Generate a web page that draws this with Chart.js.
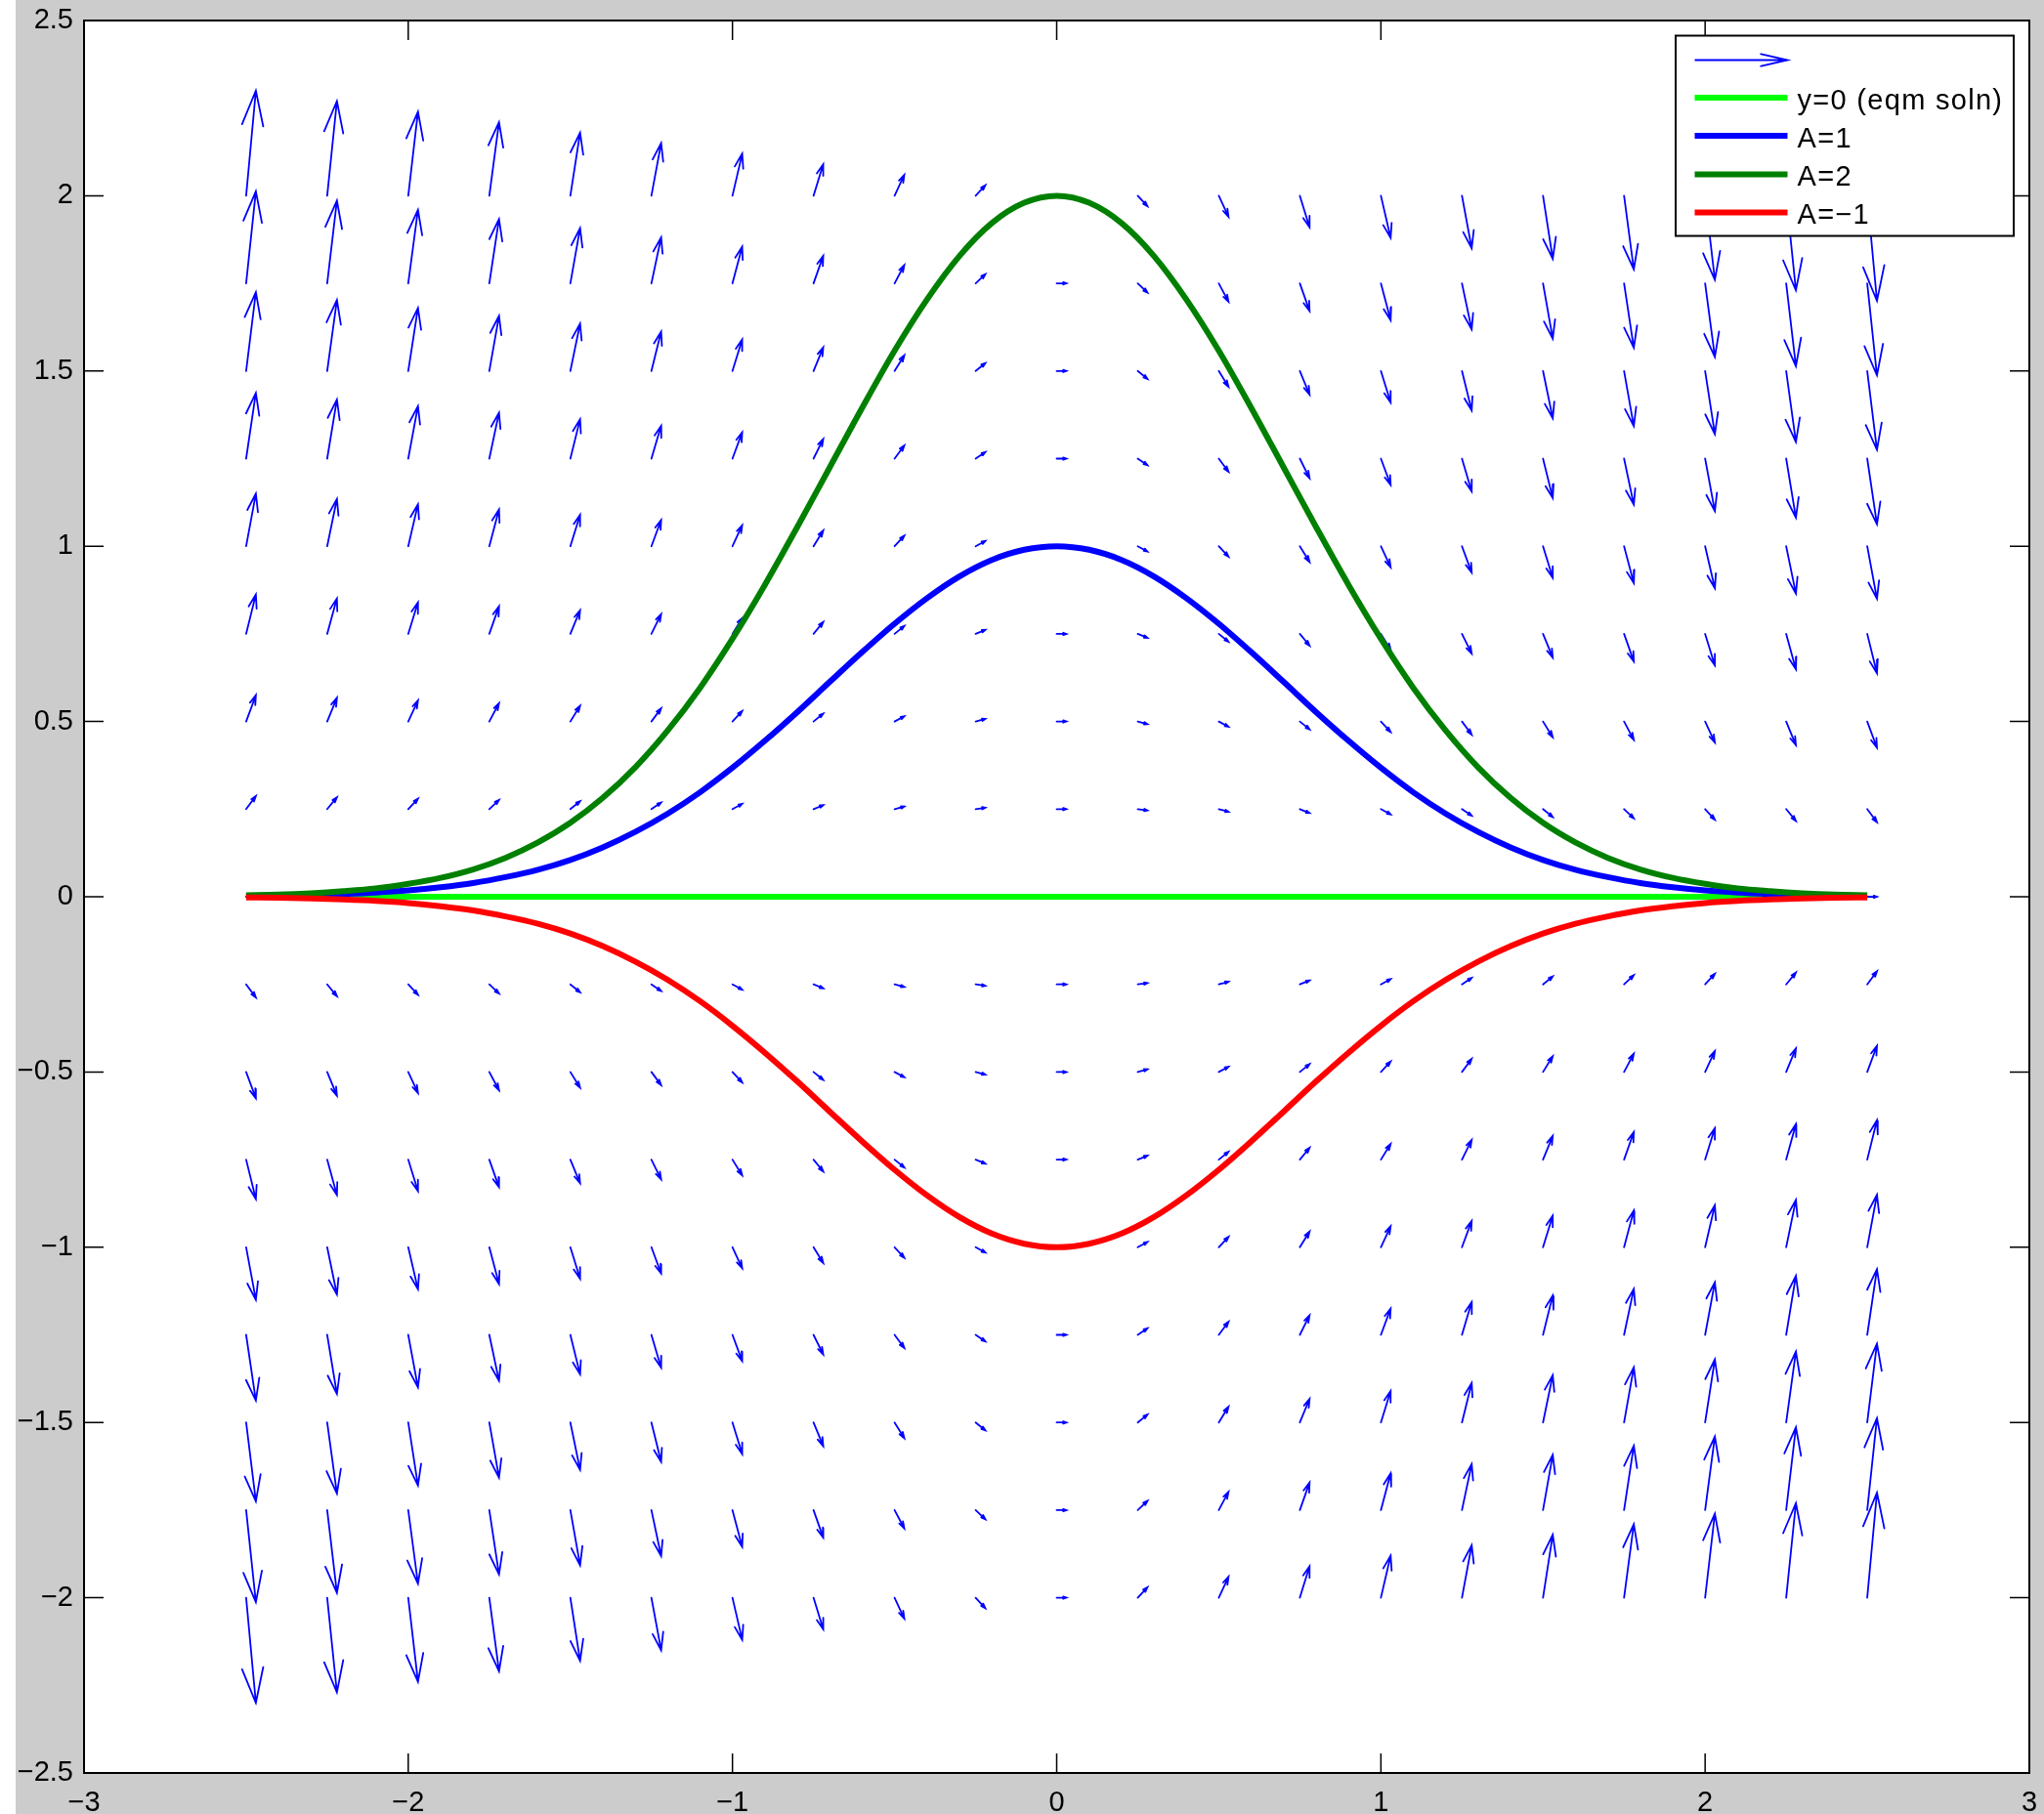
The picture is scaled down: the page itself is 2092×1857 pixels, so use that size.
<!DOCTYPE html>
<html><head><meta charset="utf-8">
<script src="https://cdn.jsdelivr.net/npm/chart.js@4/dist/chart.umd.min.js"></script>
<style>html,body{margin:0;padding:0;background:#fff;overflow:hidden}canvas{display:block}</style>
</head><body>
<canvas id="c" width="2092" height="1857"></canvas>
<script>
// ---- data ----
const xTickValues = [-3, -2, -1, 0, 1, 2, 3];
const yTickValues = [-2.5, -2, -1.5, -1, -0.5, 0, 0.5, 1, 1.5, 2, 2.5];

// direction-field grid (arrow tails)
const quiverX = [-2.5, -2.25, -2, -1.75, -1.5, -1.25, -1, -0.75, -0.5, -0.25, 0, 0.25, 0.5, 0.75, 1, 1.25, 1.5, 1.75, 2, 2.25, 2.5];
const quiverY = [2, 1.75, 1.5, 1.25, 1, 0.75, 0.5, 0.25, 0, -0.25, -0.5, -0.75, -1, -1.25, -1.5, -1.75, -2];
// slope dy/dx of each arrow, one row per quiverY value
const slopeRows = [
  [10, 9, 8, 7, 6, 5, 4, 3, 2, 1, 0, -1, -2, -3, -4, -5, -6, -7, -8, -9, -10],
  [8.75, 7.875, 7, 6.125, 5.25, 4.375, 3.5, 2.625, 1.75, 0.875, 0, -0.875, -1.75, -2.625, -3.5, -4.375, -5.25, -6.125, -7, -7.875, -8.75],
  [7.5, 6.75, 6, 5.25, 4.5, 3.75, 3, 2.25, 1.5, 0.75, 0, -0.75, -1.5, -2.25, -3, -3.75, -4.5, -5.25, -6, -6.75, -7.5],
  [6.25, 5.625, 5, 4.375, 3.75, 3.125, 2.5, 1.875, 1.25, 0.625, 0, -0.625, -1.25, -1.875, -2.5, -3.125, -3.75, -4.375, -5, -5.625, -6.25],
  [5, 4.5, 4, 3.5, 3, 2.5, 2, 1.5, 1, 0.5, 0, -0.5, -1, -1.5, -2, -2.5, -3, -3.5, -4, -4.5, -5],
  [3.75, 3.375, 3, 2.625, 2.25, 1.875, 1.5, 1.125, 0.75, 0.375, 0, -0.375, -0.75, -1.125, -1.5, -1.875, -2.25, -2.625, -3, -3.375, -3.75],
  [2.5, 2.25, 2, 1.75, 1.5, 1.25, 1, 0.75, 0.5, 0.25, 0, -0.25, -0.5, -0.75, -1, -1.25, -1.5, -1.75, -2, -2.25, -2.5],
  [1.25, 1.125, 1, 0.875, 0.75, 0.625, 0.5, 0.375, 0.25, 0.125, 0, -0.125, -0.25, -0.375, -0.5, -0.625, -0.75, -0.875, -1, -1.125, -1.25],
  [0, 0, 0, 0, 0, 0, 0, 0, 0, 0, 0, 0, 0, 0, 0, 0, 0, 0, 0, 0, 0],
  [-1.25, -1.125, -1, -0.875, -0.75, -0.625, -0.5, -0.375, -0.25, -0.125, 0, 0.125, 0.25, 0.375, 0.5, 0.625, 0.75, 0.875, 1, 1.125, 1.25],
  [-2.5, -2.25, -2, -1.75, -1.5, -1.25, -1, -0.75, -0.5, -0.25, 0, 0.25, 0.5, 0.75, 1, 1.25, 1.5, 1.75, 2, 2.25, 2.5],
  [-3.75, -3.375, -3, -2.625, -2.25, -1.875, -1.5, -1.125, -0.75, -0.375, 0, 0.375, 0.75, 1.125, 1.5, 1.875, 2.25, 2.625, 3, 3.375, 3.75],
  [-5, -4.5, -4, -3.5, -3, -2.5, -2, -1.5, -1, -0.5, 0, 0.5, 1, 1.5, 2, 2.5, 3, 3.5, 4, 4.5, 5],
  [-6.25, -5.625, -5, -4.375, -3.75, -3.125, -2.5, -1.875, -1.25, -0.625, 0, 0.625, 1.25, 1.875, 2.5, 3.125, 3.75, 4.375, 5, 5.625, 6.25],
  [-7.5, -6.75, -6, -5.25, -4.5, -3.75, -3, -2.25, -1.5, -0.75, 0, 0.75, 1.5, 2.25, 3, 3.75, 4.5, 5.25, 6, 6.75, 7.5],
  [-8.75, -7.875, -7, -6.125, -5.25, -4.375, -3.5, -2.625, -1.75, -0.875, 0, 0.875, 1.75, 2.625, 3.5, 4.375, 5.25, 6.125, 7, 7.875, 8.75],
  [-10, -9, -8, -7, -6, -5, -4, -3, -2, -1, 0, 1, 2, 3, 4, 5, 6, 7, 8, 9, 10]
];
const arrowDX = 0.030; // horizontal length of every arrow (data units)

// solution curves
const curveX = [-2.5,-2.4,-2.3,-2.2,-2.1,-2,-1.9,-1.8,-1.7,-1.6,-1.5,-1.4,-1.3,-1.2,-1.1,-1,-0.9,-0.8,-0.7,-0.6,-0.5,-0.4,-0.3,-0.2,-0.1,0,
  0.1,0.2,0.3,0.4,0.5,0.6,0.7,0.8,0.9,1,1.1,1.2,1.3,1.4,1.5,1.6,1.7,1.8,1.9,2,2.1,2.2,2.3,2.4,2.5];
const curveA1 = [0.002,0.003,0.005,0.008,0.012,0.018,0.027,0.039,0.056,0.077,0.105,0.141,0.185,0.237,0.298,0.368,0.445,0.527,0.613,0.698,0.779,0.852,0.914,0.961,0.990,1.000,
  0.990,0.961,0.914,0.852,0.779,0.698,0.613,0.527,0.445,0.368,0.298,0.237,0.185,0.141,0.105,0.077,0.056,0.039,0.027,0.018,0.012,0.008,0.005,0.003,0.002];
const curveA2 = [0.004,0.006,0.010,0.016,0.024,0.037,0.054,0.078,0.111,0.155,0.211,0.282,0.369,0.474,0.596,0.736,0.890,1.055,1.225,1.395,1.558,1.704,1.828,1.922,1.980,2.000,
  1.980,1.922,1.828,1.704,1.558,1.395,1.225,1.055,0.890,0.736,0.596,0.474,0.369,0.282,0.211,0.155,0.111,0.078,0.054,0.037,0.024,0.016,0.010,0.006,0.004];
const curveAm1 = [-0.002,-0.003,-0.005,-0.008,-0.012,-0.018,-0.027,-0.039,-0.056,-0.077,-0.105,-0.141,-0.185,-0.237,-0.298,-0.368,-0.445,-0.527,-0.613,-0.698,-0.779,-0.852,-0.914,-0.961,-0.990,-1.000,
  -0.990,-0.961,-0.914,-0.852,-0.779,-0.698,-0.613,-0.527,-0.445,-0.368,-0.298,-0.237,-0.185,-0.141,-0.105,-0.077,-0.056,-0.039,-0.027,-0.018,-0.012,-0.008,-0.005,-0.003,-0.002];
const eqX = [-2.5, 2.5];
const eqY = [0, 0];

const legendLabels = ['', 'y=0 (eqm soln)', 'A=1', 'A=2', 'A=\u22121'];
const seriesColors = ['#0000ff', '#00ff00', '#0000ff', '#008000', '#ff0000'];

// ---- build library data ----
const pts = (xs, ys) => xs.map((x, i) => ({x, y: ys[i]}));
const quiverData = [];
const HA = 0.33, HB = 0.33;
quiverY.forEach((y, r) => quiverX.forEach((x, c) => {
  const u = arrowDX, v = slopeRows[r][c] * arrowDX;
  const tx = x + u, ty = y + v;
  quiverData.push({x, y}, {x: tx, y: ty}, {x: tx, y: null},
    {x: tx - HA * (u + HB * v), y: ty - HA * (v - HB * u)}, {x: tx, y: ty},
    {x: tx - HA * (u - HB * v), y: ty - HA * (v + HB * u)}, {x: tx, y: null});
}));

const fmt = v => (v < 0 ? '\u2212' : '') + String(Math.abs(Math.round(v * 10) / 10));
Chart.defaults.font.family = '"Liberation Sans", Arial, Helvetica, sans-serif';
const noScalePad = s => { s.paddingTop = 0; s.paddingBottom = 0; s.paddingLeft = 0; s.paddingRight = 0; };

const framePlugin = {
  id: 'frame',
  beforeDraw(chart) {
    const ctx = chart.ctx, a = chart.chartArea;
    ctx.save();
    ctx.fillStyle = '#ffffff'; ctx.fillRect(0, 0, chart.width, chart.height);
    ctx.fillStyle = '#cccccc'; ctx.fillRect(16, 0, chart.width - 16, chart.height);
    ctx.fillStyle = '#ffffff'; ctx.fillRect(a.left, a.top, a.right - a.left, a.bottom - a.top);
    ctx.restore();
  },
  afterDatasetsDraw(chart) {
    const ctx = chart.ctx, a = chart.chartArea, xs = chart.scales.x, ys = chart.scales.y;
    ctx.save();
    ctx.strokeStyle = '#000'; ctx.lineWidth = 1.5;
    ctx.beginPath();
    xs.ticks.forEach(t => { const p = xs.getPixelForValue(t.value);
      ctx.moveTo(p, a.bottom); ctx.lineTo(p, a.bottom - 20); ctx.moveTo(p, a.top); ctx.lineTo(p, a.top + 20); });
    ys.ticks.forEach(t => { const p = ys.getPixelForValue(t.value);
      ctx.moveTo(a.left, p); ctx.lineTo(a.left + 20, p); ctx.moveTo(a.right, p); ctx.lineTo(a.right - 20, p); });
    ctx.stroke();
    ctx.lineWidth = 2;
    ctx.strokeRect(a.left, a.top, a.right - a.left, a.bottom - a.top);

    // legend
    const bx = a.right - 362, by = a.top + 15.5, bw = 346, bh = 205;
    ctx.fillStyle = '#fff'; ctx.fillRect(bx, by, bw, bh);
    ctx.lineWidth = 2; ctx.strokeStyle = '#000'; ctx.strokeRect(bx, by, bw, bh);
    const rows = [25, 63.6, 102.6, 142, 181];
    const l0 = bx + 19.5, l1 = bx + 114.5;
    ctx.font = '29px "Liberation Sans", Arial, sans-serif';
    try { ctx.letterSpacing = '1.3px'; } catch (e) {}
    ctx.textBaseline = 'alphabetic'; ctx.textAlign = 'left';
    rows.forEach((ry, i) => {
      const yy = by + ry;
      ctx.strokeStyle = seriesColors[i];
      ctx.beginPath();
      if (i === 0) {
        ctx.lineWidth = 1.8;
        ctx.moveTo(l0, yy); ctx.lineTo(l1, yy);
        ctx.moveTo(l1 - 28, yy - 6.3); ctx.lineTo(l1, yy); ctx.lineTo(l1 - 28, yy + 6.3);
      } else {
        ctx.lineWidth = 6;
        ctx.moveTo(l0, yy); ctx.lineTo(l1, yy);
      }
      ctx.stroke();
      if (legendLabels[i]) { ctx.fillStyle = '#000'; ctx.fillText(legendLabels[i], bx + 124.5, yy + 11.5); }
    });
    try { ctx.letterSpacing = '0px'; } catch (e) {}
    ctx.restore();
  }
};

new Chart(document.getElementById('c'), {
  type: 'scatter',
  data: {
    datasets: [
      {label: 'quiver', data: quiverData, showLine: true, spanGaps: false, borderColor: seriesColors[0], borderWidth: 1.8, pointRadius: 0, order: 5, borderCapStyle: 'round'},
      {label: legendLabels[1], data: pts(eqX, eqY), showLine: true, borderColor: seriesColors[1], borderWidth: 6, pointRadius: 0, order: 4},
      {label: legendLabels[2], data: pts(curveX, curveA1), showLine: true, borderColor: seriesColors[2], borderWidth: 6, pointRadius: 0, cubicInterpolationMode: 'monotone', order: 3},
      {label: legendLabels[3], data: pts(curveX, curveA2), showLine: true, borderColor: seriesColors[3], borderWidth: 6, pointRadius: 0, cubicInterpolationMode: 'monotone', order: 2},
      {label: legendLabels[4], data: pts(curveX, curveAm1), showLine: true, borderColor: seriesColors[4], borderWidth: 6, pointRadius: 0, cubicInterpolationMode: 'monotone', order: 1}
    ]
  },
  options: {
    responsive: false, animation: false, devicePixelRatio: 1,
    layout: {padding: {left: 0, top: 21, right: 15, bottom: 0}},
    plugins: {legend: {display: false}, tooltip: {enabled: false}, title: {display: false}},
    events: [],
    scales: {
      x: {type: 'linear', min: -3, max: 3,
        afterBuildTicks: s => { s.ticks = xTickValues.map(v => ({value: v})); },
        afterFit: s => { s.height = 42; noScalePad(s); },
        grid: {display: false, drawTicks: false}, border: {display: false},
        ticks: {autoSkip: false, maxRotation: 0, padding: 14, color: '#000', font: {size: 29, lineHeight: 1.2}, callback: v => fmt(v)}},
      y: {type: 'linear', min: -2.5, max: 2.5,
        afterBuildTicks: s => { s.ticks = yTickValues.map(v => ({value: v})); },
        afterFit: s => { s.width = 86; noScalePad(s); },
        grid: {display: false, drawTicks: false}, border: {display: false},
        ticks: {autoSkip: false, padding: 11, color: '#000', font: {size: 29, lineHeight: 1}, callback: v => fmt(v)}}
    }
  },
  plugins: [framePlugin]
});
</script>
</body></html>
